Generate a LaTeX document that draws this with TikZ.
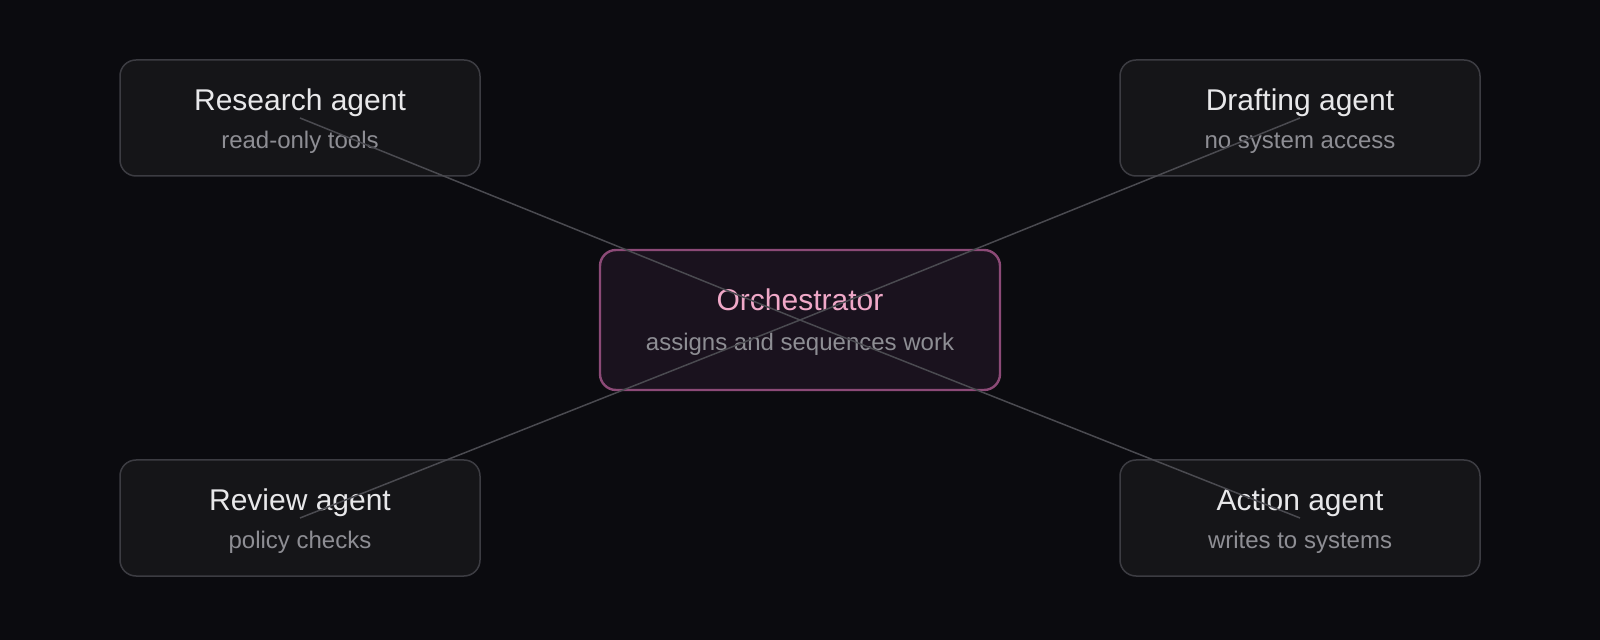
\documentclass[tikz,border=0pt]{standalone}
\usepackage{fontspec}
\setmainfont{Liberation Sans}
\definecolor{bg}{HTML}{0B0B0F}
\definecolor{boxfill}{HTML}{151518}
\definecolor{boxline}{HTML}{3C3C42}
\definecolor{orchfill}{HTML}{1A121E}
\definecolor{orchline}{HTML}{8C4A77}
\definecolor{titlecol}{HTML}{E8E8EA}
\definecolor{subcol}{HTML}{8E8E94}
\definecolor{orchtitle}{HTML}{F0A8C8}
\definecolor{linkcol}{HTML}{4A4A50}
\begin{document}
\begin{tikzpicture}[x=0.5pt,y=-0.5pt,
  agentbox/.style={draw=boxline,fill=boxfill,line width=0.75pt,rounded corners=8pt,minimum width=180pt,minimum height=58pt,inner sep=0pt},
  orchbox/.style={draw=orchline,fill=orchfill,line width=1.2pt,rounded corners=8pt,minimum width=200pt,minimum height=70pt,inner sep=0pt},
  titletext/.style={text=titlecol,font=\fontsize{15pt}{17pt}\selectfont,inner sep=0pt,anchor=base},
  orchtitletext/.style={text=orchtitle,font=\fontsize{15pt}{17pt}\selectfont,inner sep=0pt,anchor=base},
  subtext/.style={text=subcol,font=\fontsize{12pt}{14pt}\selectfont,inner sep=0pt,anchor=base},
  link/.style={draw=linkcol,line width=0.75pt}]
\fill[bg] (0,0) rectangle (1600,640);
\useasboundingbox (0,0) rectangle (1600,640);
% boxes
\node[agentbox] (res) at (300,118) {};
\node[agentbox] (dra) at (1300,118) {};
\node[agentbox] (rev) at (300,518) {};
\node[agentbox] (act) at (1300,518) {};
\node[orchbox] (orc) at (800,320) {};
% texts
\node[titletext] (rest) at (300,111) {Research agent};
\node[subtext] (ress) at (300,149) {read-only tools};
\node[titletext] (drat) at (1300,111) {Drafting agent};
\node[subtext] (dras) at (1300,149) {no system access};
\node[titletext] (revt) at (300,511) {Review agent};
\node[subtext] (revs) at (300,549) {policy checks};
\node[titletext] (actt) at (1300,511) {Action agent};
\node[subtext] (acts) at (1300,549) {writes to systems};
\node[orchtitletext] (orct) at (800,311) {Orchestrator};
\node[subtext] (orcs) at (800,351) {assigns and sequences work};
% links
\draw[link] (res.center) -- (orc.center) -- (act.center);
\draw[link] (dra.center) -- (orc.center) -- (rev.center);
\end{tikzpicture}
\end{document}
